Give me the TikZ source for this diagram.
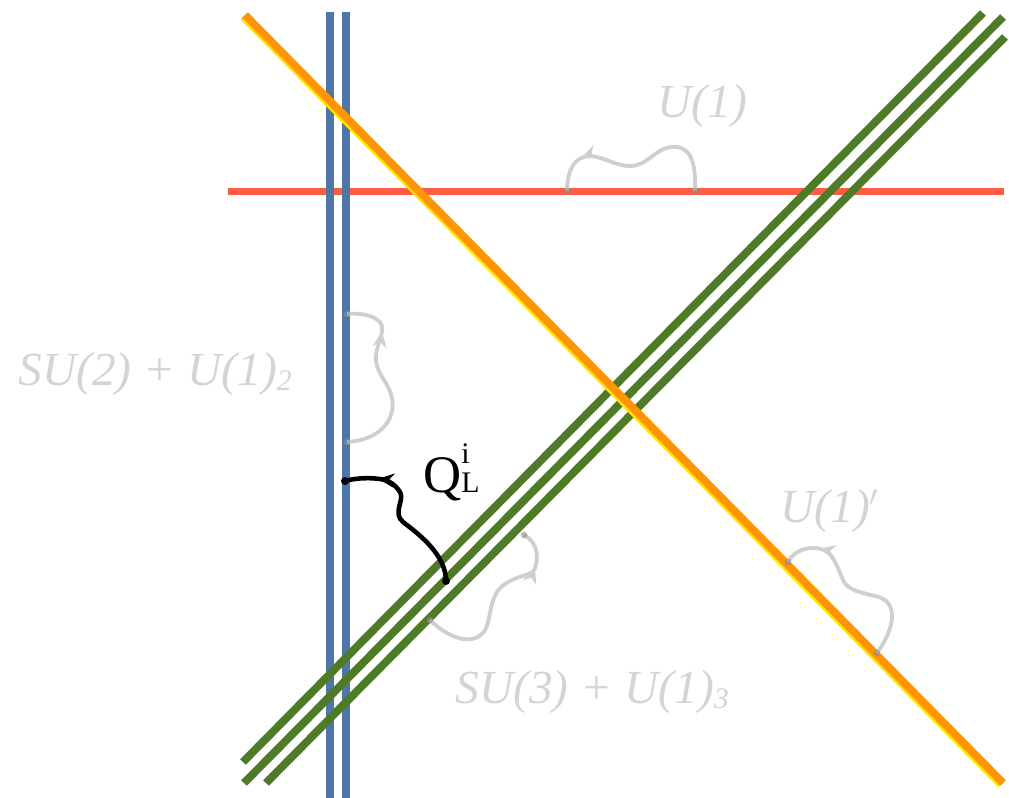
\documentclass[tikz,border=0pt]{standalone}
\usepackage{fontspec}
\setmainfont{Liberation Serif}
\usetikzlibrary{arrows.meta,decorations.markings}

\definecolor{branered}{HTML}{FF5B45}
\definecolor{braneblue}{HTML}{4E76A6}
\definecolor{branegreen}{HTML}{4F7A28}
\definecolor{braneorange}{HTML}{FF9500}
\definecolor{braneyellow}{HTML}{FFE600}
\definecolor{stringgray}{HTML}{CFCFCF}

\begin{document}
\begin{tikzpicture}[x=0.02cm,y=-0.02cm,
  brane/.style={line width=4.5pt},
  gstring/.style={line width=2.2pt,draw=stringgray},
  qstring/.style={line width=2.6pt,draw=black},
  midarrow/.style 2 args={postaction={decorate},
    decoration={markings,mark=at position #1 with {\arrow[#2]{Stealth[length=9pt,width=8pt]}}}},
  gdot/.style={fill=black!45,opacity=0.6},
  glabel/.style={text=black!17,font=\fontsize{27}{27}\selectfont\itshape,anchor=base west,inner sep=0pt}
]
  \useasboundingbox (0,0) rectangle (1009,798);
  % red brane
  \draw[brane,branered,line width=4pt] (228,191.5) -- (1004,191.5);
  % blue stack
  \draw[brane,braneblue] (329.7,12) -- (329.7,798);
  \draw[brane,braneblue] (345.7,12) -- (345.7,798);
  % green stack
  \draw[brane,branegreen] (243,762) -- (983,13);
  \draw[brane,branegreen] (244,783) -- (1003,17);
  \draw[brane,branegreen] (266,783) -- (1005,37);
  % orange brane, yellow rim underneath
  \draw[brane,braneyellow] (243.3,16.7) -- (1001.3,784.7);
  \draw[brane,braneorange] (245,15) -- (1003,783);

  % string end points
  \coordinate (u1a) at (695,191);
  \coordinate (u1b) at (567,191);
  \coordinate (s2a) at (347,442);
  \coordinate (s2b) at (347,314);
  \coordinate (upa) at (877,653);
  \coordinate (upb) at (788,562);
  \coordinate (s3a) at (430,620);
  \coordinate (s3b) at (524,535);
  \coordinate (qa) at (446,581);
  \coordinate (qb) at (345,481);

  % U(1) on the red brane
  \draw[gstring,midarrow={0.8}{stringgray}] (u1a)
    .. controls (696,160) and (690,146) .. (672,147)
    .. controls (655,148) and (648,166) .. (630,166)
    .. controls (615,166) and (605,157) .. (590,156)
    .. controls (575,156) and (567,170) .. (u1b);
  % SU(2) on the blue stack
  \draw[gstring,midarrow={0.76}{stringgray}] (s2a)
    .. controls (380,440) and (396,420) .. (392,398)
    .. controls (389,382) and (374,372) .. (376,355)
    .. controls (378,340) and (386,330) .. (380,322)
    .. controls (372,314) and (358,313) .. (s2b);
  % U(1)' on the orange brane
  \draw[gstring,midarrow={0.8}{stringgray}] (upa)
    .. controls (888,638) and (900,612) .. (885,600)
    .. controls (875,593) and (850,595) .. (843,580)
    .. controls (838,568) and (834,558) .. (828,552)
    .. controls (815,544) and (795,548) .. (upb);
  % SU(3) on the green stack
  \draw[gstring,midarrow={0.8}{stringgray}] (s3a)
    .. controls (445,635) and (470,648) .. (484,632)
    .. controls (492,620) and (488,595) .. (505,584)
    .. controls (515,577) and (528,575) .. (533,572)
    .. controls (540,560) and (538,542) .. (s3b);
  \foreach \p in {u1a,u1b,s2a,s2b,upa,upb,s3a,s3b}
    \fill[gdot] (\p) circle (3.3);

  % quark doublet
  \draw[qstring,midarrow={0.8}{black}] (qa)
    .. controls (446,555) and (420,535) .. (403,522)
    .. controls (392,513) and (405,500) .. (400,492)
    .. controls (395,484) and (388,480) .. (380,479)
    .. controls (365,477) and (352,479) .. (qb);
  \fill (qa) circle (4);
  \fill (qb) circle (4);

  % labels
  \node[glabel] (lu1) at (657,117) {U(1)};
  \node[glabel] (lsu2) at (18,385) {SU(2) + U(1)\raisebox{-0.12em}{\fontsize{17}{17}\selectfont 2}};
  \node[glabel] (lup) at (780,522) {U(1)$'$};
  \node[glabel] (lsu3) at (455,703) {SU(3) + U(1)\raisebox{-0.12em}{\fontsize{17}{17}\selectfont 3}};
  \node[anchor=base west,inner sep=0pt,font=\fontsize{30}{30}\selectfont] (lq) at (423,492)
    {Q\rlap{\raisebox{0.55em}{\fontsize{17}{17}\selectfont i}}{\fontsize{17}{17}\selectfont L}};
\end{tikzpicture}
\end{document}
